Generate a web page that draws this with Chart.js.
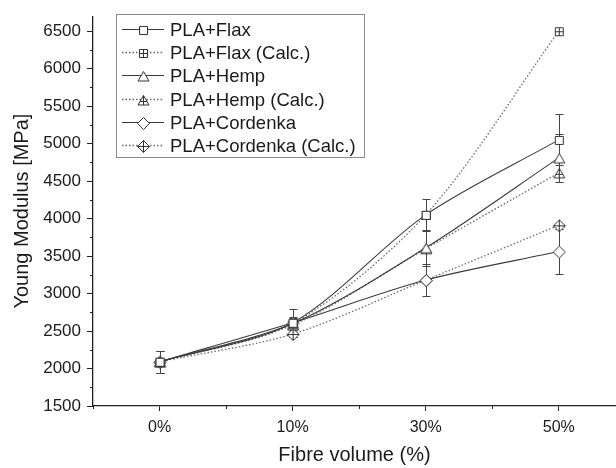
<!DOCTYPE html>
<html><head><meta charset="utf-8">
<script src="https://cdn.jsdelivr.net/npm/chart.js@4.4.1/dist/chart.umd.min.js"></script>
<style>html,body{margin:0;padding:0;background:#fff;overflow:hidden}#wrap{width:616px;height:468px;position:relative}</style>
</head><body><div id="wrap"><canvas id="c" width="616" height="468"></canvas></div>
<script>
// ---- data ----
const categories = ['0%', '10%', '30%', '50%'];
const seriesNames = ['PLA+Flax', 'PLA+Flax (Calc.)', 'PLA+Hemp', 'PLA+Hemp (Calc.)', 'PLA+Cordenka', 'PLA+Cordenka (Calc.)'];
const flax = [2090, 2610, 4050, 5050];
const flaxErr = [150, 190, 210, 340];
const flaxCalc = [2090, 2600, 4050, 6500];
const hemp = [2090, 2600, 3610, 4810];
const hempErr = [150, 80, 240, 320];
const hempCalc = [2090, 2580, 3600, 4610];
const cordenka = [2090, 2610, 3180, 3560];
const cordenkaErr = [150, 80, 210, 300];
const cordenkaCalc = [2090, 2460, 3180, 3910];
const yTickValues = [1500, 2000, 2500, 3000, 3500, 4000, 4500, 5000, 5500, 6000, 6500];

// ---- markers ----
function makeMarker(shape, plus) {
  const s = 16, c = document.createElement('canvas');
  c.width = s; c.height = s;
  const g = c.getContext('2d');
  g.strokeStyle = '#333'; g.fillStyle = '#fff'; g.lineWidth = 1;
  const m = 8.5;
  g.beginPath();
  if (shape === 'square') { g.rect(4.5, 4.5, 8, 8); }
  else if (shape === 'triangle') { g.moveTo(m, 3.5); g.lineTo(14, 13); g.lineTo(3, 13); g.closePath(); }
  else { g.moveTo(m, 2.5); g.lineTo(14.5, m); g.lineTo(m, 14.5); g.lineTo(2.5, m); g.closePath(); }
  g.fill(); g.stroke();
  if (plus) {
    g.beginPath();
    if (shape === 'square') { g.moveTo(m, 4.5); g.lineTo(m, 12.5); g.moveTo(4.5, m); g.lineTo(12.5, m); }
    else if (shape === 'triangle') { g.moveTo(m, 3.5); g.lineTo(m, 13); g.moveTo(5, 9.5); g.lineTo(12, 9.5); }
    else { g.moveTo(m, 2.5); g.lineTo(m, 14.5); g.moveTo(2.5, m); g.lineTo(14.5, m); }
    g.stroke();
  }
  return c;
}
const mk = {
  sq: makeMarker('square', false), sqp: makeMarker('square', true),
  tr: makeMarker('triangle', false), trp: makeMarker('triangle', true),
  di: makeMarker('diamond', false), dip: makeMarker('diamond', true)
};

const toXY = arr => arr.map((v, i) => ({ x: i, y: v }));
const SOLID = '#3a3a3a', DOT = '#6a6a6a';
function ds(label, data, marker, calc, err) {
  return {
    label, data: toXY(data), errors: err || null,
    borderColor: calc ? DOT : SOLID, borderWidth: calc ? 1.3 : 1.1,
    borderDash: calc ? [1.5, 2] : [], tension: 0.3,
    pointStyle: marker, pointRadius: 6, pointHoverRadius: 6,
    backgroundColor: '#fff', fill: false
  };
}

const errorBars = {
  id: 'errorBars',
  beforeDatasetsDraw(chart) {
    const ctx = chart.ctx, ys = chart.scales.y;
    ctx.save(); ctx.strokeStyle = '#444'; ctx.lineWidth = 1;
    chart.data.datasets.forEach((d, di) => {
      if (!d.errors) return;
      const meta = chart.getDatasetMeta(di);
      meta.data.forEach((pt, i) => {
        const v = d.data[i].y, e = d.errors[i];
        const x = Math.round(pt.x) + 0.5;
        const t = Math.round(ys.getPixelForValue(v + e)) + 0.5;
        const b = Math.round(ys.getPixelForValue(v - e)) + 0.5;
        ctx.beginPath();
        ctx.moveTo(x, t); ctx.lineTo(x, b);
        ctx.moveTo(x - 4, t); ctx.lineTo(x + 4, t);
        ctx.moveTo(x - 4, b); ctx.lineTo(x + 4, b);
        ctx.stroke();
      });
    });
    ctx.restore();
  }
};

const minorTicks = {
  id: 'minorTicks',
  afterDraw(chart) {
    const ctx = chart.ctx, xs = chart.scales.x, ys = chart.scales.y, a = chart.chartArea;
    ctx.save(); ctx.strokeStyle = '#222'; ctx.lineWidth = 1;
    ctx.beginPath();
    for (let i = 0; i < yTickValues.length; i++) {
      const v = yTickValues[i] + (yTickValues[1] - yTickValues[0]) / 2;
      if (v > ys.max) continue;
      const y = Math.round(ys.getPixelForValue(v)) + 0.5;
      ctx.moveTo(a.left - 3, y); ctx.lineTo(a.left, y);
    }
    for (let i = -1; i < categories.length; i++) {
      const v = i + 0.5;
      if (v < xs.min || v > xs.max) continue;
      const x = Math.round(xs.getPixelForValue(v)) + 0.5;
      ctx.moveTo(x, a.bottom); ctx.lineTo(x, a.bottom + 3);
    }
    ctx.stroke(); ctx.restore();
  }
};

const boxLegend = {
  id: 'boxLegend',
  afterDraw(chart, args, o) {
    const ctx = chart.ctx;
    ctx.save();
    ctx.strokeStyle = '#8a8a8a'; ctx.lineWidth = 1;
    ctx.strokeRect(o.left + 0.5, o.top + 0.5, o.width, o.height);
    ctx.font = '18.5px "Liberation Sans", Arial, sans-serif';
    ctx.fillStyle = '#1a1a1a'; ctx.textBaseline = 'middle';
    chart.data.datasets.forEach((d, i) => {
      const y = Math.round(o.top + o.firstRow + i * o.rowStep) + 0.5;
      ctx.beginPath();
      ctx.strokeStyle = d.borderColor; ctx.lineWidth = d.borderWidth;
      ctx.setLineDash(d.borderDash);
      ctx.moveTo(o.left + 6, y); ctx.lineTo(o.left + 48, y); ctx.stroke();
      ctx.setLineDash([]);
      const img = d.pointStyle;
      ctx.drawImage(img, Math.round(o.left + 27 - img.width / 2), Math.round(y - img.height / 2));
      ctx.fillText(d.label, o.left + 54, y + 1);
    });
    ctx.restore();
  }
};

const font = '"Liberation Sans", Arial, sans-serif';
new Chart(document.getElementById('c'), {
  type: 'line',
  data: {
    datasets: [
      ds(seriesNames[0], flax, mk.sq, false, flaxErr),
      ds(seriesNames[1], flaxCalc, mk.sqp, true),
      ds(seriesNames[2], hemp, mk.tr, false, hempErr),
      ds(seriesNames[3], hempCalc, mk.trp, true),
      ds(seriesNames[4], cordenka, mk.di, false, cordenkaErr),
      ds(seriesNames[5], cordenkaCalc, mk.dip, true)
    ]
  },
  options: {
    responsive: false, animation: false, devicePixelRatio: 1,
    layout: { autoPadding: false, padding: { top: 16, left: 0, right: 0, bottom: 0 } },
    plugins: {
      legend: { display: false }, tooltip: { enabled: false },
      boxLegend: { left: 116, top: 14, width: 248, height: 143, firstRow: 15, rowStep: 23.2 }
    },
    scales: {
      x: {
        type: 'linear', min: -0.5, max: 3.43,
        afterBuildTicks: s => { s.ticks = categories.map((c, i) => ({ value: i })); },
        afterFit: s => { s.height = 62; },
        ticks: { callback: v => categories[v], font: { family: font, size: 16 }, color: '#1a1a1a', padding: 7, maxRotation: 0, autoSkip: false },
        grid: { drawOnChartArea: false, drawTicks: true, tickLength: 5, color: '#222' },
        border: { display: true, color: '#222', width: 1.3 },
        title: { display: true, text: 'Fibre volume (%)', font: { family: font, size: 20 }, color: '#1a1a1a', padding: { top: 0, bottom: 1 } }
      },
      y: {
        type: 'linear', min: 1500, max: 6700,
        afterBuildTicks: s => { s.ticks = yTickValues.map(v => ({ value: v })); },
        afterFit: s => { s.width = 93; },
        ticks: { callback: v => String(v), font: { family: font, size: 17 }, color: '#1a1a1a', padding: 6 },
        grid: { drawOnChartArea: false, drawTicks: true, tickLength: 6, color: '#222' },
        border: { display: true, color: '#222', width: 1.3 },
        title: { display: true, text: 'Young Modulus [MPa]', font: { family: font, size: 20 }, color: '#1a1a1a', padding: { top: 10, bottom: 0 } }
      }
    }
  },
  plugins: [errorBars, minorTicks, boxLegend]
});
</script></body></html>
